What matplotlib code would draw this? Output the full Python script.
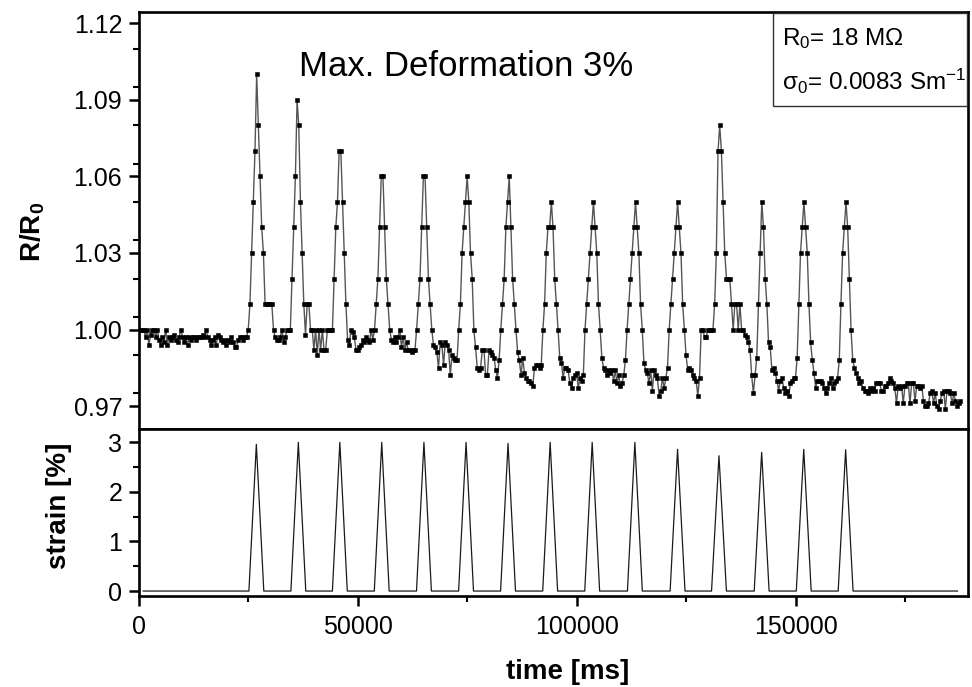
import matplotlib
matplotlib.use("Agg")
import matplotlib.pyplot as plt
from matplotlib.ticker import MultipleLocator, FixedLocator, FormatStrFormatter
from matplotlib.patches import Rectangle
import numpy as np

plt.rcParams['font.family'] = ['Liberation Sans', 'DejaVu Sans']
plt.rcParams['mathtext.fontset'] = 'custom'
plt.rcParams['mathtext.rm'] = 'Liberation Sans'
plt.rcParams['mathtext.it'] = 'Liberation Sans:italic'
plt.rcParams['mathtext.bf'] = 'Liberation Sans:bold'

# ---------------- data ----------------
sample_dt_ms = 384.6   # sampling interval of the resistance record

r_start = [1.000, 1.000, 1.000, 1.000, 0.997, 1.000, 0.994, 0.998, 1.000, 1.000,
           0.997, 1.000, 0.996, 0.994, 0.997, 0.995, 1.000, 0.994, 0.997, 0.996,
           0.997, 0.998, 0.996, 0.995, 0.997, 1.000, 0.997, 0.995, 0.997, 0.994,
           0.997, 0.996, 0.997, 0.997, 0.996, 0.997, 0.997, 0.997, 0.998, 0.997,
           1.000, 0.997, 0.996, 0.994, 0.996, 0.997, 0.994, 0.998, 0.997, 0.996,
           0.995, 0.996, 0.994, 0.996, 0.995, 0.997, 0.995, 0.993, 0.993, 0.996,
           0.997, 0.997, 0.996, 0.997]
r_cycle1 = [0.997, 1.000, 1.010, 1.030, 1.050, 1.070, 1.100, 1.080, 1.060, 1.040, 1.030, 1.010, 1.010,
            1.010, 1.010, 1.010, 1.000, 0.997, 0.996, 0.996, 0.997, 1.000, 0.995, 0.997, 1.000]
r_cycle2 = [1.000, 1.000, 1.020, 1.040, 1.060, 1.090, 1.080, 1.050, 1.030, 1.010, 0.998, 1.010, 1.010,
            1.000, 1.000, 0.992, 1.000, 0.990, 1.000, 0.992, 1.000, 0.992, 0.992, 1.000, 1.000]
r_cycle3 = [1.000, 1.000, 1.020, 1.040, 1.050, 1.070, 1.070, 1.050, 1.030, 1.010, 0.996, 0.994, 1.000,
            0.999, 0.997, 0.992, 0.992, 0.993, 0.994, 0.996, 0.995, 0.997, 0.996, 0.995, 1.000]
r_cycle4 = [0.996, 1.000, 1.010, 1.020, 1.040, 1.060, 1.060, 1.040, 1.020, 1.010, 1.000, 0.996, 0.995,
            0.997, 0.995, 0.997, 1.000, 0.993, 0.997, 0.992, 0.995, 0.992, 0.992, 0.991, 0.992]
r_cycle5 = [0.992, 1.000, 1.010, 1.020, 1.040, 1.060, 1.060, 1.040, 1.020, 1.010, 1.000, 0.994, 0.993,
            0.991, 0.985, 0.995, 0.994, 0.986, 0.995, 0.994, 0.992, 0.982, 0.990, 0.989, 0.988]
r_cycle6 = [0.988, 1.000, 1.010, 1.030, 1.040, 1.050, 1.060, 1.050, 1.030, 1.020, 1.000, 0.993, 0.985,
            0.984, 0.985, 0.992, 0.992, 0.982, 0.982, 0.992, 0.991, 0.990, 0.989, 0.984, 0.981]
r_cycle7 = [0.988, 1.000, 1.010, 1.020, 1.040, 1.050, 1.060, 1.040, 1.020, 1.010, 1.000, 0.991, 0.988,
            0.982, 0.989, 0.983, 0.981, 0.980, 0.980, 0.979, 0.978, 0.985, 0.986, 0.986, 0.985]
r_cycle8 = [0.986, 1.000, 1.010, 1.030, 1.040, 1.040, 1.050, 1.040, 1.020, 1.010, 1.000, 0.989, 0.987,
            0.981, 0.985, 0.985, 0.984, 0.979, 0.977, 0.981, 0.982, 0.983, 0.977, 0.981, 0.980]
r_cycle9 = [0.982, 1.000, 1.010, 1.020, 1.030, 1.040, 1.050, 1.040, 1.030, 1.010, 1.000, 0.989, 0.985,
            0.984, 0.982, 0.984, 0.983, 0.984, 0.980, 0.984, 0.979, 0.982, 0.978, 0.979, 0.982]
r_cycle10 = [0.988, 1.000, 1.010, 1.020, 1.030, 1.040, 1.050, 1.040, 1.030, 1.010, 1.000, 0.987, 0.984,
             0.983, 0.979, 0.984, 0.976, 0.984, 0.982, 0.981, 0.974, 0.976, 0.981, 0.977, 0.981]
r_cycle11 = [0.985, 1.000, 1.010, 1.020, 1.030, 1.040, 1.050, 1.040, 1.030, 1.010, 1.000, 0.990, 0.984,
             0.985, 0.984, 0.982, 0.981, 0.980, 0.974, 0.981, 1.000, 1.000, 0.997, 0.997, 1.000]
r_cycle12 = [1.000, 1.000, 1.000, 1.010, 1.030, 1.070, 1.080, 1.070, 1.050, 1.030, 1.020, 1.020, 1.020,
             1.010, 1.000, 1.010, 1.010, 1.000, 1.010, 1.000, 1.000, 0.998, 0.997, 0.995, 0.992]
r_cycle13 = [0.982, 0.975, 0.982, 0.989, 1.010, 1.030, 1.050, 1.040, 1.020, 1.010, 0.995, 0.993, 0.984,
             0.985, 0.983, 0.980, 0.976, 0.980, 0.981, 0.977, 0.975, 0.976, 0.974, 0.979, 0.980]
r_cycle14 = [0.981, 0.981, 0.989, 1.010, 1.030, 1.040, 1.050, 1.040, 1.030, 1.010, 0.995, 0.988, 0.983,
             0.977, 0.980, 0.980, 0.980, 0.979, 0.977, 0.975, 0.977, 0.979, 0.981, 0.977, 0.979]
r_cycle15 = [0.980, 0.981, 0.988, 1.010, 1.030, 1.040, 1.050, 1.040, 1.020, 1.000, 0.988]
r_tail = [0.985, 0.983, 0.981, 0.979, 0.980, 0.977, 0.976, 0.976, 0.975, 0.977,
          0.976, 0.977, 0.976, 0.979, 0.979, 0.979, 0.976, 0.976, 0.978, 0.978,
          0.979, 0.981, 0.980, 0.979, 0.977, 0.971, 0.978, 0.977, 0.978, 0.971,
          0.978, 0.979, 0.979, 0.971, 0.979, 0.979, 0.972, 0.978, 0.978, 0.977,
          0.978, 0.972, 0.970, 0.970, 0.971, 0.975, 0.976, 0.971, 0.975, 0.970,
          0.969, 0.972, 0.975, 0.976, 0.969, 0.976, 0.976, 0.975, 0.971, 0.975,
          0.972, 0.970, 0.971, 0.972]

strain_peak_times = [26850, 36440, 45920, 55490, 65130, 74750, 84340, 93960,
                     103560, 113310, 123060, 132520, 142270, 151880, 161450]
strain_peak_values = [2.96, 3.00, 3.00, 3.00, 3.00, 3.00, 2.98, 3.00,
                      3.00, 3.00, 2.86, 2.73, 2.80, 2.86, 2.85]
strain_half_width_ms = 1700
strain_start_ms = 1000
strain_end_ms = 187000

# ---------------- assemble ----------------
r_all = (r_start + r_cycle1 + r_cycle2 + r_cycle3 + r_cycle4 + r_cycle5 + r_cycle6 +
         r_cycle7 + r_cycle8 + r_cycle9 + r_cycle10 + r_cycle11 + r_cycle12 +
         r_cycle13 + r_cycle14 + r_cycle15 + r_tail)
t_all = np.arange(len(r_all)) * sample_dt_ms

sx = [strain_start_ms]
sy = [0.0]
for tp, h in zip(strain_peak_times, strain_peak_values):
    sx += [tp - strain_half_width_ms, tp, tp + strain_half_width_ms]
    sy += [0.0, h, 0.0]
sx.append(strain_end_ms)
sy.append(0.0)

# ---------------- figure ----------------
W, H = 972, 687
fig = plt.figure(figsize=(W / 100, H / 100), dpi=100)

left_px, right_px = 138.8, 968.0
top_px, mid_px, bot_px = 11.7, 429.0, 596.0
ax1 = fig.add_axes([left_px / W, 1 - mid_px / H, (right_px - left_px) / W, (mid_px - top_px) / H])
ax2 = fig.add_axes([left_px / W, 1 - bot_px / H, (right_px - left_px) / W, (bot_px - mid_px) / H])

xmax = 189400
ax1.plot(t_all, r_all, '-', color='#555555', lw=1.0, marker='s', ms=3.1,
         mfc='black', mec='black', mew=0.4)
ax2.plot(sx, sy, '-', color='#1a1a1a', lw=0.9)

for ax in (ax1, ax2):
    ax.set_xlim(0, xmax)
    for sp in ax.spines.values():
        sp.set_linewidth(1.9)
        sp.set_color('black')
    ax.tick_params(which='major', direction='out', length=7, width=1.8, labelsize=18,
                   colors='black', top=False, right=False)
    ax.tick_params(which='minor', direction='out', length=4, width=1.5,
                   top=False, right=False)

ax1.set_ylim(0.961, 1.1246)
ax1.yaxis.set_major_locator(FixedLocator([0.97, 1.00, 1.03, 1.06, 1.09, 1.12]))
ax1.yaxis.set_minor_locator(MultipleLocator(0.015))
ax1.yaxis.set_major_formatter(FormatStrFormatter('%.2f'))
ax1.tick_params(axis='y', pad=5)
ax1.xaxis.set_major_locator(MultipleLocator(50000))
ax1.xaxis.set_minor_locator(MultipleLocator(25000))
ax1.tick_params(axis='x', which='both', bottom=False, labelbottom=False)

ax2.set_ylim(-0.1, 3.27)
ax2.yaxis.set_major_locator(FixedLocator([0, 1, 2, 3]))
ax2.yaxis.set_minor_locator(MultipleLocator(0.5))
ax2.tick_params(axis='y', pad=5)
ax2.xaxis.set_major_locator(MultipleLocator(50000))
ax2.xaxis.set_minor_locator(MultipleLocator(25000))
ax2.xaxis.set_major_formatter(FormatStrFormatter('%d'))
ax2.tick_params(axis='x', pad=7)

# axis labels
fig.text(33 / W, 1 - 232 / H, r'R/R$_\mathbf{0}$', rotation=90, fontsize=20,
         fontweight='bold', ha='center', va='center')
fig.text(59.5 / W, 1 - 506 / H, 'strain [%]', rotation=90, fontsize=20,
         fontweight='bold', ha='center', va='center')
fig.text(568 / W, 1 - 672 / H, 'time [ms]', fontsize=20, fontweight='bold',
         ha='center', va='center')

# annotation
fig.text(299 / W, 1 - 76 / H, 'Max. Deformation 3%', fontsize=25, ha='left', va='baseline')

# info box
box = Rectangle((773 / W, 1 - 106 / H), (967 - 773) / W, (106 - 13) / H,
                transform=fig.transFigure, fill=False, edgecolor='#333333', lw=1.0)
fig.patches.append(box)
fig.text(782 / W, 1 - 45 / H, r'R$_0$= 18 M$\Omega$', fontsize=17.5, ha='left', va='baseline')
fig.text(782 / W, 1 - 90 / H, r'σ$_0$= 0.0083 Sm$^{-1}$', fontsize=17.5, ha='left', va='baseline')

fig.savefig('out.png', dpi=100)
